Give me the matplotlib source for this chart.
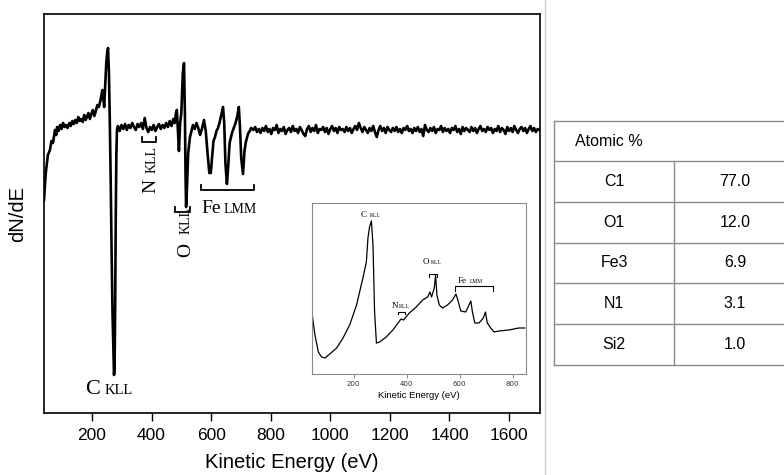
import numpy as np
import matplotlib
matplotlib.use("Agg")
import matplotlib.pyplot as plt
from matplotlib.lines import Line2D

# main AES derivative spectrum (arbitrary dN/dE units)
energy_low = [39, 45, 52, 59, 64, 69, 76, 80, 83, 88,
              93, 98, 103, 108, 113, 118, 124, 129, 134, 139,
              144, 149, 154, 159, 164, 169, 174, 179, 183, 188,
              193, 198, 203, 208, 213, 218, 223, 228, 232, 235,
              238, 241, 245, 248, 251, 254, 257, 260, 263, 266,
              269, 272, 274, 276, 278, 280, 282, 284]
dnde_low = [213, 240, 258, 263, 272, 270, 283, 278, 286, 282,
            288, 284, 290, 286, 288, 285, 290, 287, 292, 289,
            293, 290, 296, 292, 294, 291, 298, 293, 296, 300,
            294, 299, 303, 297, 302, 308, 306, 312, 318, 323,
            315, 306, 330, 350, 360, 365, 340, 290, 230, 160,
            100, 60, 38, 45, 110, 200, 260, 283]

energy_mid = [287, 293, 299, 305, 311, 317, 323, 329, 335, 341,
              347, 353, 359, 365, 371, 377, 383, 389, 395, 401,
              407, 413, 419, 425, 431, 437, 443, 449, 455, 461,
              467, 473, 478, 482, 485, 488, 492, 496, 500, 505,
              509, 512, 514, 516, 519, 523, 529, 534, 539, 545,
              551, 557, 563, 569, 576, 582, 588, 594, 599, 603,
              608, 613, 618, 623, 628, 634, 640, 644, 648, 653,
              657, 662, 670, 676, 682, 688, 693, 697, 701, 707,
              712, 716, 720, 725, 730, 734]
dnde_mid = [287, 282, 288, 284, 289, 283, 288, 285, 290, 286,
            283, 289, 286, 290, 284, 295, 285, 281, 286, 283,
            288, 282, 286, 289, 284, 288, 285, 290, 286, 292,
            287, 294, 290, 300, 303, 285, 262, 290, 300, 340,
            350, 300, 240, 206, 225, 260, 276, 282, 288, 284,
            290, 285, 278, 284, 293, 282, 260, 240, 240, 255,
            272, 276, 282, 285, 290, 298, 306, 290, 250, 229,
            245, 270, 280, 285, 290, 297, 306, 285, 255, 239,
            262, 270, 275, 280, 282, 285]

energy_tail = [742, 748, 754, 760, 766, 772, 778, 784, 790, 796,
               802, 808, 814, 820, 826, 832, 838, 844, 850, 856,
               862, 868, 874, 880, 886, 892, 898, 904, 910, 916,
               922, 928, 934, 940, 946, 952, 958, 964, 970, 976,
               982, 988, 994, 1000, 1006, 1012, 1018, 1024, 1030, 1036,
               1042, 1048, 1054, 1060, 1066, 1072, 1078, 1084, 1090, 1096,
               1102, 1108, 1114, 1120, 1126, 1132, 1138, 1144, 1150, 1156,
               1162, 1168, 1174, 1180, 1186, 1192, 1198, 1204, 1210, 1216,
               1222, 1228, 1234, 1240, 1246, 1252, 1258, 1264, 1270, 1276,
               1282, 1288, 1294, 1300, 1306, 1312, 1318, 1324, 1330, 1336,
               1342, 1348, 1354, 1360, 1366, 1372, 1378, 1384, 1390, 1396,
               1402, 1408, 1414, 1420, 1426, 1432, 1438, 1444, 1450, 1456,
               1462, 1468, 1474, 1480, 1486, 1492, 1498, 1504, 1510, 1516,
               1522, 1528, 1534, 1540, 1546, 1552, 1558, 1564, 1570, 1576,
               1582, 1588, 1594, 1600, 1606, 1612, 1618, 1624, 1630, 1636,
               1642, 1648, 1654, 1660, 1666, 1672, 1678, 1684, 1690, 1696,
               1702]
dnde_tail = [283, 286, 281, 284, 280, 285, 282, 287, 281, 284,
             279, 285, 283, 288, 280, 284, 282, 286, 279, 283,
             285, 281, 287, 282, 284, 280, 286, 283, 279, 277,
             284, 287, 281, 285, 282, 288, 280, 284, 283, 286,
             281, 285, 279, 284, 287, 282, 285, 280, 286, 283,
             284, 281, 286, 282, 285, 280, 284, 287, 283, 290,
             285, 281, 286, 283, 280, 285, 282, 287, 281, 276,
             283, 287, 282, 285, 280, 286, 283, 281, 285, 282,
             286, 281, 284, 280, 285, 283, 287, 282, 284, 280,
             285, 282, 286, 281, 284, 277, 288, 283, 281, 285,
             282, 286, 280, 284, 283, 287, 281, 285, 282, 284,
             280, 285, 283, 287, 281, 284, 279, 286, 282, 285,
             283, 281, 286, 282, 285, 280, 284, 287, 282, 284,
             281, 286, 283, 285, 280, 284, 282, 287, 281, 285,
             283, 279, 286, 282, 285, 281, 287, 283, 280, 284,
             286, 282, 285, 280, 284, 287, 282, 285, 281, 284,
             283]

# inset: direct (N(E)) spectrum
inset_energy = [43, 54, 67, 79, 92, 110, 136, 160, 185, 211,
                235, 248, 254, 260, 267, 273, 279, 286, 298, 323,
                348, 373, 379, 388, 410, 436, 460, 479, 488, 494,
                504, 509, 514, 523, 535, 554, 573, 586, 595, 604,
                623, 635, 642, 648, 657, 673, 689, 697, 704, 717,
                729, 748, 785, 823, 845]
inset_counts = [61, 39, 22, 17, 16, 20, 26, 36, 49, 69,
                96, 112, 136, 147, 153, 129, 62, 31, 32, 37,
                44, 53, 55, 54, 61, 67, 74, 77, 82, 77,
                86, 99, 79, 69, 66, 69, 74, 80, 72, 63,
                62, 69, 73, 62, 51, 51, 56, 62, 51, 46,
                42, 43, 44, 46, 46]

# atomic composition table
elements = ["C1", "O1", "Fe3", "N1", "Si2"]
atomic_pct = [77.0, 12.0, 6.9, 3.1, 1.0]

W, H = 784, 475
fig = plt.figure(figsize=(W / 100, H / 100), dpi=100)
serif = "Liberation Serif"
sans = "Liberation Sans"


def box(l, t, r, b):
    # pixel box -> figure fraction rect
    return [l / W, 1 - b / H, (r - l) / W, (b - t) / H]


def line_label(ax, x, y, main, sub, size, subsize, dx, rot=0):
    # element symbol with a smaller transition label next to it
    if rot:
        ax.text(x, y, main, fontsize=size, family=serif, rotation=90,
                rotation_mode="anchor", ha="left", va="baseline")
        ax.text(x, y + dx, sub, fontsize=subsize, family=serif, rotation=90,
                rotation_mode="anchor", ha="left", va="baseline")
    else:
        ax.text(x, y, main, fontsize=size, family=serif, ha="left", va="baseline")
        ax.text(x + dx, y, sub, fontsize=subsize, family=serif, ha="left", va="baseline")


def bracket(ax, x0, x1, y, tick, lw):
    ax.plot([x0, x0, x1, x1], [y + tick, y, y, y + tick], color="black", lw=lw,
            solid_joinstyle="miter")


# ---- main spectrum
ax = fig.add_axes(box(44, 14, 540, 413))
energy = energy_low + energy_mid + energy_tail
dnde = dnde_low + dnde_mid + dnde_tail
ax.plot(energy, dnde, color="black", lw=1.9)
ax.set_xlim(39, 1704)
ax.set_ylim(0, 399)
ax.set_xticks([200, 400, 600, 800, 1000, 1200, 1400, 1600])
ax.set_yticks([])
ax.tick_params(axis="x", direction="out", length=6, width=1, labelsize=12.5, pad=5)
for lab in ax.get_xticklabels():
    lab.set_family(sans)
for s in ax.spines.values():
    s.set_linewidth(1.2)
ax.set_xlabel("Kinetic Energy (eV)", fontsize=14.5, family=sans, labelpad=7)
ax.set_ylabel("dN/dE", fontsize=14.5, family=sans, labelpad=12)

line_label(ax, 178, 19, "C", "KLL", 16, 10.5, 64)
line_label(ax, 412, 220, "N", "KLL", 14, 10, 20, rot=1)
bracket(ax, 368, 415, 271, 5, 1.3)
line_label(ax, 529, 156, "O", "KLL", 14, 10, 23, rot=1)
bracket(ax, 479, 529, 201, 5, 1.3)
line_label(ax, 566, 200, "Fe", "LMM", 14, 10, 76)
bracket(ax, 566, 744, 223, 5, 1.3)

# ---- inset
axi = fig.add_axes(box(312, 203, 526, 374))
axi.plot(inset_energy, inset_counts, color="black", lw=0.9)
axi.set_xlim(43, 850)
axi.set_ylim(0, 171)
axi.set_xticks([200, 400, 600, 800])
axi.set_yticks([])
axi.tick_params(axis="x", direction="out", length=3, width=0.6, color="#777777",
                labelsize=5, pad=2, labelcolor="#333333")
for s in axi.spines.values():
    s.set_linewidth(0.8)
    s.set_color("#888888")
axi.set_xlabel("Kinetic Energy (eV)", fontsize=6.8, family=sans, labelpad=3)

line_label(axi, 228, 157, "C", "KLL", 6.5, 4, 32)
line_label(axi, 462, 110, "O", "KLL", 6.5, 4, 28)
bracket(axi, 484, 514, 100, -3, 0.8)
line_label(axi, 342, 66, "N", "KLL", 6.5, 4, 28)
bracket(axi, 367, 394, 62, -2, 0.8)
line_label(axi, 594, 91, "Fe", "LMM", 6.5, 4, 45)
bracket(axi, 582, 726, 88, -5, 0.8)

# separator line between the chart and the table
fig.add_artist(Line2D([545 / W, 545 / W], [0, 1], color="#cccccc", lw=1))

# ---- table
axt = fig.add_axes(box(554, 121, 784, 365))
axt.set_xlim(554, 784)
axt.set_ylim(365, 121)
axt.axis("off")
grid_c = "#8a8a8a"
row_top = [121, 161, 202, 243, 283, 324, 365]
for yy in row_top:
    axt.plot([554, 784], [yy, yy], color=grid_c, lw=1, clip_on=False)
axt.plot([554, 554], [121, 365], color=grid_c, lw=1, clip_on=False)
axt.plot([674, 674], [161, 365], color=grid_c, lw=1, clip_on=False)
axt.text(575, 141, "Atomic %", fontsize=11.5, family=sans, ha="left", va="center")
for i, (el, v) in enumerate(zip(elements, atomic_pct)):
    yc = (row_top[i + 1] + row_top[i + 2]) / 2
    axt.text(614, yc, el, fontsize=11.5, family=sans, ha="center", va="center")
    axt.text(735, yc, f"{v:.1f}", fontsize=11.5, family=sans, ha="center", va="center")

fig.savefig("out.png", dpi=100)
